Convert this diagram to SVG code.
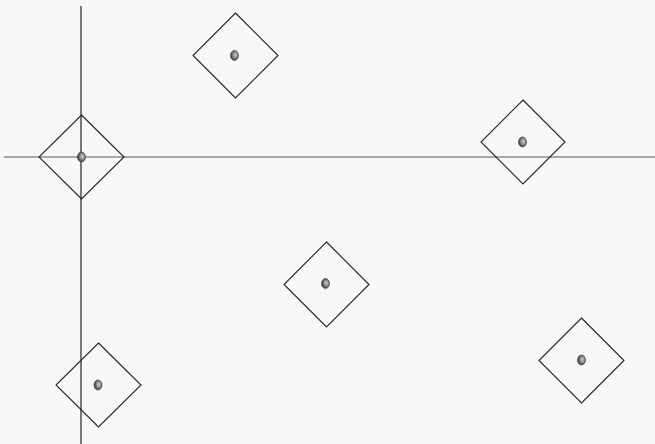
<svg xmlns="http://www.w3.org/2000/svg" width="655" height="444" viewBox="0 0 655 444">
<style>
.d{fill:none;stroke:#222;stroke-width:1.1}
.dot{fill:url(#g);stroke:#333;stroke-width:0.6}
.ax{stroke-width:1.2;fill:none}
</style>
<defs>
<radialGradient id="g" cx="0.6" cy="0.45" r="0.6">
<stop offset="0" stop-color="#cfcfcf"/>
<stop offset="0.5" stop-color="#888"/>
<stop offset="1" stop-color="#333"/>
</radialGradient>
</defs>
<rect width="655" height="444" fill="#f8f8fb"/>
<g id="connectors">
<line class="ax" x1="81" y1="6" x2="81" y2="444" stroke="#222"/>
<line class="ax" x1="4" y1="157" x2="655" y2="157" stroke="#555"/>
</g>
<g id="n1"><polygon class="d" points="81.5,115 124,157 81.5,199 39,157"/><ellipse class="dot" cx="81.5" cy="157" rx="4" ry="5"/></g>
<g id="n2"><polygon class="d" points="235.5,13 278,55.5 235.5,98 193,55.5"/><ellipse class="dot" cx="234.5" cy="55.5" rx="4" ry="5"/></g>
<g id="n3"><polygon class="d" points="523,100 565,142 523,184 481,142"/><ellipse class="dot" cx="522.5" cy="142" rx="4" ry="5"/></g>
<g id="n4"><polygon class="d" points="326.5,242 369,284.5 326.5,327 284,284.5"/><ellipse class="dot" cx="325.5" cy="283.5" rx="4" ry="5"/></g>
<g id="n5"><polygon class="d" points="98.5,343 141,385 98.5,427 56,385"/><ellipse class="dot" cx="98" cy="385" rx="4" ry="5"/></g>
<g id="n6"><polygon class="d" points="581.5,318 624,360.5 581.5,403 539,360.5"/><ellipse class="dot" cx="581.5" cy="360" rx="4" ry="5"/></g>
</svg>
